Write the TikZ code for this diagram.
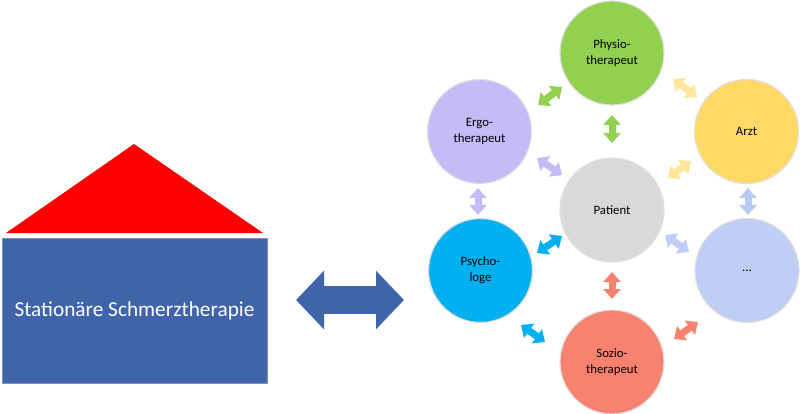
\documentclass[tikz,border=0pt]{standalone}
\usepackage{fontspec}
\setmainfont{Carlito}
\usetikzlibrary{arrows.meta}
\definecolor{roofred}{HTML}{FF0000}
\definecolor{houseblue}{HTML}{3F64AA}
\definecolor{cgreen}{HTML}{92D050}
\definecolor{clav}{HTML}{C4BBF7}
\definecolor{cyellow}{HTML}{FFD966}
\definecolor{cgray}{HTML}{D9D9D9}
\definecolor{ccyan}{HTML}{00B0F0}
\definecolor{cpale}{HTML}{C0CDF4}
\definecolor{csalmon}{HTML}{F8826F}
\definecolor{ayellow}{HTML}{FFE69A}
\definecolor{ablue}{HTML}{B8C9F2}
\tikzset{
  circ/.style={circle, minimum size=104pt, inner sep=0pt, align=center,
    draw=black!12, line width=1.2pt, font=\fontsize{12.8}{16}\selectfont, text=black},
  dbl/.style={draw=#1, line width=7pt,
    {Triangle[width=17pt,length=10pt]}-{Triangle[width=17pt,length=10pt]}},
  bigdbl/.style={draw=houseblue, line width=28pt,
    {Triangle[width=57pt,length=28pt]}-{Triangle[width=57pt,length=28pt]}}
}
\begin{document}
\begin{tikzpicture}[x=1pt,y=-1pt]
\useasboundingbox (0,0) rectangle (800,414);
% house
\fill[roofred] (6,233) -- (134,144) -- (263,233) -- cycle;
\node[fill=houseblue, draw=houseblue!70!white, line width=0.6pt, minimum width=265pt, minimum height=145pt,
  inner sep=0pt, text=white, font=\fontsize{21.3}{24}\selectfont] (house) at (134.5,310.5) {Stationäre Schmerztherapie};
% circles
\node[circ, fill=cgreen] (physio) at (612,53) {Physio-\\therapeut};
\node[circ, fill=clav] (ergo) at (479.5,131.5) {Ergo-\\therapeut};
\node[circ, fill=cyellow] (arzt) at (746.5,131.5) {Arzt};
\node[circ, fill=cgray] (patient) at (612,210) {Patient};
\node[circ, fill=ccyan] (psycho) at (480.5,270.5) {Psycho-\\loge};
\node[circ, fill=cpale] (more) at (747,270.5) {...};
\node[circ, fill=csalmon] (sozio) at (612,362) {Sozio-\\therapeut};
% big arrow
\coordinate (bigL) at (296,300);
\coordinate (bigR) at (404,300);
\draw[bigdbl] (bigL) -- (bigR);
% arrow end points
\coordinate (a1s) at (538,105); \coordinate (a1e) at (562,87);
\coordinate (a2s) at (612,115); \coordinate (a2e) at (612,143);
\coordinate (a3s) at (673,79);  \coordinate (a3e) at (697,97);
\coordinate (a4s) at (537,158); \coordinate (a4e) at (562,175);
\coordinate (a5s) at (668,178); \coordinate (a5e) at (691,161);
\coordinate (a6s) at (478,188); \coordinate (a6e) at (478,215);
\coordinate (a7s) at (748,188); \coordinate (a7e) at (748,215);
\coordinate (a8s) at (537,253); \coordinate (a8e) at (562,236);
\coordinate (a9s) at (665,235); \coordinate (a9e) at (689,252);
\coordinate (a10s) at (612,272); \coordinate (a10e) at (612,299);
\coordinate (a11s) at (521,325); \coordinate (a11e) at (545,342);
\coordinate (a12s) at (674,339); \coordinate (a12e) at (698,322);
\draw[dbl=cgreen] (a1s) -- (a1e);
\draw[dbl=cgreen] (a2s) -- (a2e);
\draw[dbl=ayellow] (a3s) -- (a3e);
\draw[dbl=clav] (a4s) -- (a4e);
\draw[dbl=ayellow] (a5s) -- (a5e);
\draw[dbl=clav] (a6s) -- (a6e);
\draw[dbl=ablue] (a7s) -- (a7e);
\draw[dbl=ccyan] (a8s) -- (a8e);
\draw[dbl=cpale] (a9s) -- (a9e);
\draw[dbl=csalmon] (a10s) -- (a10e);
\draw[dbl=ccyan] (a11s) -- (a11e);
\draw[dbl=csalmon] (a12s) -- (a12e);
\end{tikzpicture}
\end{document}
